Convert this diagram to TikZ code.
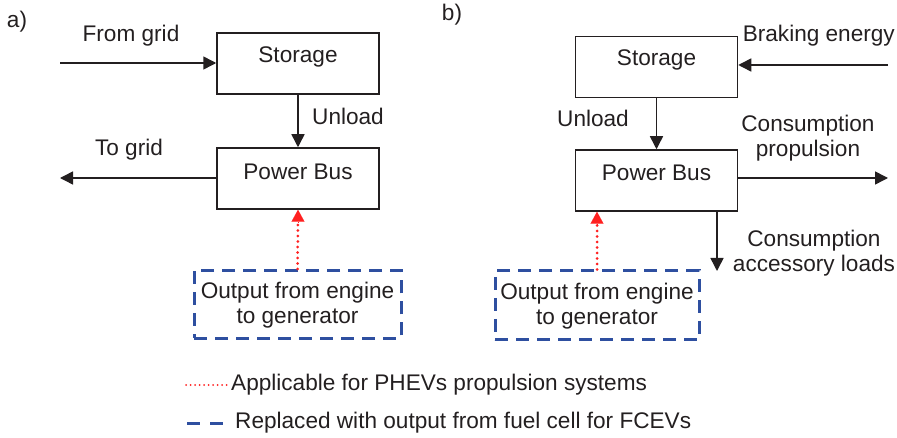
\documentclass[tikz,border=0pt]{standalone}
\usepackage{fontspec}
\setmainfont{Liberation Sans}
\usetikzlibrary{arrows.meta}
\definecolor{txt}{HTML}{231F20}
\definecolor{dblue}{HTML}{2E4FA0}
\definecolor{dred}{HTML}{FF2020}
\tikzset{
  box/.style={draw=txt, line width=1.5pt, minimum width=162pt, minimum height=61pt, inner sep=0pt},
  dbox/.style={draw=dblue, line width=3pt, dash pattern=on 13pt off 8pt, minimum width=207pt, minimum height=68pt, inner sep=0pt},
  lbl/.style={text=txt, inner sep=0pt, font=\fontsize{22.6}{25}\selectfont, align=center},
  conn/.style={draw=txt, line width=1.5pt, -{Triangle[length=13pt,width=13pt]}},
  red/.style={draw=dred, line width=3pt, dash pattern=on 0pt off 5.5pt, line cap=round},
  redtip/.style={-{Triangle[length=12pt,width=13pt,fill=dred,color=dred]}}
}
\begin{document}
\begin{tikzpicture}[x=1pt,y=-1pt]
\useasboundingbox (0,0) rectangle (897,438);
% ---- a)
\node[lbl] (la) at (17,22) {a)};
\node[box] (sA) at (298,63.5) {};
\node[lbl] (sAt) at (298,57) {Storage};
\node[box] (pA) at (298,178.5) {};
\node[lbl] (pAt) at (298,172) {Power Bus};
\node[dbox] (dA) at (297.5,304.5) {};
\node[lbl] (dAt) at (297.5,305) {Output from engine\\to generator};
\coordinate (fromA) at (60,63);
\coordinate (toA) at (60,178);
\draw[conn] (fromA) -- (sA.west |- fromA);
\node[lbl] (fromAt) at (131,36) {From grid};
\draw[conn] (sA.south) -- (pA.north);
\node[lbl, anchor=west] (unA) at (312,116) {Unload};
\draw[conn] (pA.west |- toA) -- (toA);
\node[lbl] (toAt) at (129,150) {To grid};
\draw[red] (dA.north) -- ([yshift=-12pt]pA.south);
\draw[dred, line width=0.1pt, redtip] ([yshift=-12pt]pA.south) -- (pA.south);
% ---- b)
\node[lbl] (lb) at (452,15) {b)};
\node[box] (sB) at (656.5,67) {};
\node[lbl] (sBt) at (656.5,60) {Storage};
\node[box] (pB) at (656.5,180.5) {};
\node[lbl] (pBt) at (656.5,173) {Power Bus};
\node[dbox, minimum width=204pt, minimum height=69pt] (dB) at (597,305.5) {};
\node[lbl] (dBt) at (597,306) {Output from engine\\to generator};
\coordinate (brk) at (888,65);
\draw[conn] (brk) -- (sB.east |- brk);
\node[lbl, anchor=east] (brkt) at (895,36) {Braking energy};
\draw[conn] (sB.south) -- (pB.north);
\node[lbl, anchor=east] (unB) at (629,118) {Unload};
\coordinate (prop) at (888,178);
\draw[conn] (pB.east |- prop) -- (prop);
\node[lbl] (propt) at (808,138) {Consumption\\propulsion};
\coordinate (accTop) at (717,211);
\coordinate (acc) at (717,271);
\draw[conn] (accTop) -- (acc);
\node[lbl] (acct) at (814,253) {Consumption\\accessory loads};
\draw[red] (dB.north) -- ([yshift=-12pt]pB.south -| dB.north);
\draw[dred, line width=0.1pt, redtip] ([yshift=-12pt]pB.south -| dB.north) -- (pB.south -| dB.north);
% ---- legend
\coordinate (r1) at (186,385);
\coordinate (r2) at (229,385);
\draw[red, line width=2pt, dash pattern=on 0pt off 4.5pt] (r1) -- (r2);
\node[lbl, anchor=west] (l1) at (231,385) {Applicable for PHEVs propulsion systems};
\coordinate (b1) at (187,423);
\coordinate (b2) at (226,423);
\draw[dblue, line width=3pt, dash pattern=on 13pt off 10pt] (b1) -- (b2);
\node[lbl, anchor=west] (l2) at (235,423) {Replaced with output from fuel cell for FCEVs};
\end{tikzpicture}
\end{document}
